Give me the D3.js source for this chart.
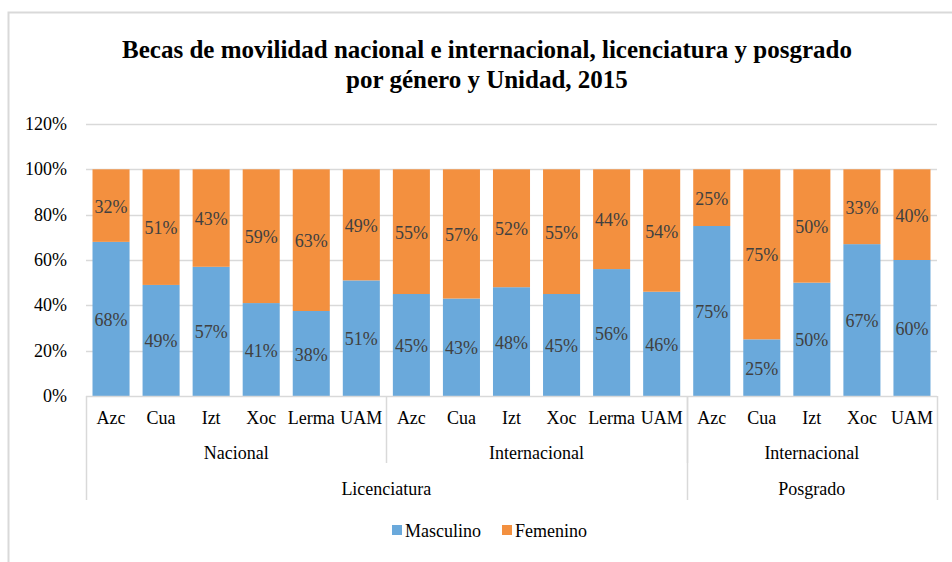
<!DOCTYPE html>
<html>
<head>
<meta charset="utf-8">
<style>
body { margin: 0; background: #fff; }
svg { display: block; font-family: "Liberation Serif", "Times New Roman", serif; }
.grid line { stroke: #d9d9d9; stroke-width: 1.5px; }
.axisbox line { stroke: #d9d9d9; stroke-width: 1.5px; }
.tick-label { font-size: 18px; fill: #000; }
.data-label { font-size: 18px; fill: #404040; }
.title { font-family: "Liberation Serif", "Times New Roman", serif; font-weight: bold; font-size: 25px; fill: #000; }
</style>
</head>
<body>
<svg width="952" height="562"></svg>
<script src="https://cdn.jsdelivr.net/npm/d3@7"></script>
<script>
// categories: unit, group (movilidad), level
var units  = ["Azc","Cua","Izt","Xoc","Lerma","UAM","Azc","Cua","Izt","Xoc","Lerma","UAM","Azc","Cua","Izt","Xoc","UAM"];
var groups = [
  {name: "Nacional", count: 6},
  {name: "Internacional", count: 6},
  {name: "Internacional", count: 5}
];
var levels = [
  {name: "Licenciatura", count: 12},
  {name: "Posgrado", count: 5}
];
var masculino = [68, 49, 57, 41, 37.5, 51, 45, 43, 48, 45, 56, 46, 75, 25, 50, 67, 60];
var femenino  = [32, 51, 43, 59, 62.5, 49, 55, 57, 52, 55, 44, 54, 25, 75, 50, 33, 40];
var yTicks = [0, 20, 40, 60, 80, 100, 120];
var seriesNames = ["Masculino", "Femenino"];
var colors = ["#6aa9db", "#f3903f"];

var svg = d3.select("svg");
var plotLeft = 86, plotRight = 937, plotTop = 124, plotBottom = 396;

// outer chart border
svg.append("rect")
  .attr("x", 8.5).attr("y", 12.5)
  .attr("width", 980).attr("height", 600)
  .attr("fill", "none").attr("stroke", "#d9d9d9").attr("stroke-width", 2);

// title
var title = svg.append("text")
  .attr("class", "title")
  .attr("text-anchor", "middle");
title.append("tspan").attr("x", 487).attr("y", 58)
  .text("Becas de movilidad nacional e internacional, licenciatura y posgrado");
title.append("tspan").attr("x", 487).attr("y", 88)
  .text("por género y Unidad, 2015");

var idx = d3.range(units.length);
var x = d3.scaleBand().domain(idx).range([plotLeft, plotRight]).paddingInner(0.26).paddingOuter(0.13);
var y = d3.scaleLinear().domain([0, 120]).range([plotBottom, plotTop]);

// gridlines
svg.append("g").attr("class", "grid")
  .selectAll("line").data(yTicks.filter(function(d){ return d > 0; }))
  .enter().append("line")
  .attr("x1", plotLeft).attr("x2", plotRight)
  .attr("y1", function(d){ return Math.round(y(d)) + 0.5; })
  .attr("y2", function(d){ return Math.round(y(d)) + 0.5; });

// y tick labels
svg.append("g").selectAll("text").data(yTicks)
  .enter().append("text")
  .attr("class", "tick-label")
  .attr("x", 67)
  .attr("y", function(d){ return y(d) + 6; })
  .attr("text-anchor", "end")
  .text(function(d){ return d + "%"; });

// stacked data
var rows = idx.map(function(i){ return {i: i, Masculino: masculino[i], Femenino: femenino[i]}; });
var stack = d3.stack().keys(seriesNames)(rows);

var layer = svg.append("g").selectAll("g").data(stack)
  .enter().append("g")
  .attr("fill", function(d, k){ return colors[k]; });

layer.selectAll("rect").data(function(d){ return d; })
  .enter().append("rect")
  .attr("x", function(d){ return x(d.data.i); })
  .attr("width", x.bandwidth())
  .attr("y", function(d){ return y(Math.min(d[1], 100)); })
  .attr("height", function(d){ return y(d[0]) - y(Math.min(d[1], 100)); });

layer.selectAll("text").data(function(d){ return d; })
  .enter().append("text")
  .attr("class", "data-label")
  .attr("text-anchor", "middle")
  .attr("x", function(d){ return x(d.data.i) + x.bandwidth() / 2; })
  .attr("y", function(d){ return (y(d[0]) + y(Math.min(d[1], 100))) / 2 + 7; })
  .text(function(d){ return Math.round(d[1] - d[0]) + "%"; });

// hierarchical category axis
var step = x.step();
var axis = svg.append("g").attr("class", "axisbox");
axis.append("line").attr("x1", plotLeft).attr("x2", plotRight).attr("y1", plotBottom + 0.5).attr("y2", plotBottom + 0.5);

svg.append("g").selectAll("text").data(units)
  .enter().append("text")
  .attr("class", "tick-label")
  .attr("text-anchor", "middle")
  .attr("x", function(d, i){ return x(i) + x.bandwidth() / 2; })
  .attr("y", 424)
  .text(function(d){ return d; });

var gStart = 0;
groups.forEach(function(g){
  var x0 = plotLeft + gStart * step, x1 = plotLeft + (gStart + g.count) * step;
  svg.append("text").attr("class", "tick-label").attr("text-anchor", "middle")
    .attr("x", (x0 + x1) / 2).attr("y", 459).text(g.name);
  if (gStart > 0) {
    axis.append("line").attr("x1", Math.round(x0) + 0.5).attr("x2", Math.round(x0) + 0.5)
      .attr("y1", plotBottom).attr("y2", 463);
  }
  gStart += g.count;
});

var lStart = 0;
levels.forEach(function(l){
  var x0 = plotLeft + lStart * step, x1 = plotLeft + (lStart + l.count) * step;
  svg.append("text").attr("class", "tick-label").attr("text-anchor", "middle")
    .attr("x", (x0 + x1) / 2).attr("y", 495).text(l.name);
  axis.append("line").attr("x1", Math.round(x0) + 0.5).attr("x2", Math.round(x0) + 0.5)
    .attr("y1", plotBottom).attr("y2", 500);
  lStart += l.count;
});
axis.append("line").attr("x1", plotRight + 0.5).attr("x2", plotRight + 0.5).attr("y1", plotBottom).attr("y2", 500);

// legend
var legend = svg.append("g");
var legX = [392, 502];
seriesNames.forEach(function(s, k){
  legend.append("rect").attr("x", legX[k]).attr("y", 525).attr("width", 10).attr("height", 10).attr("fill", colors[k]);
  legend.append("text").attr("class", "tick-label").attr("x", legX[k] + 13).attr("y", 537).text(s);
});
</script>
</body>
</html>
